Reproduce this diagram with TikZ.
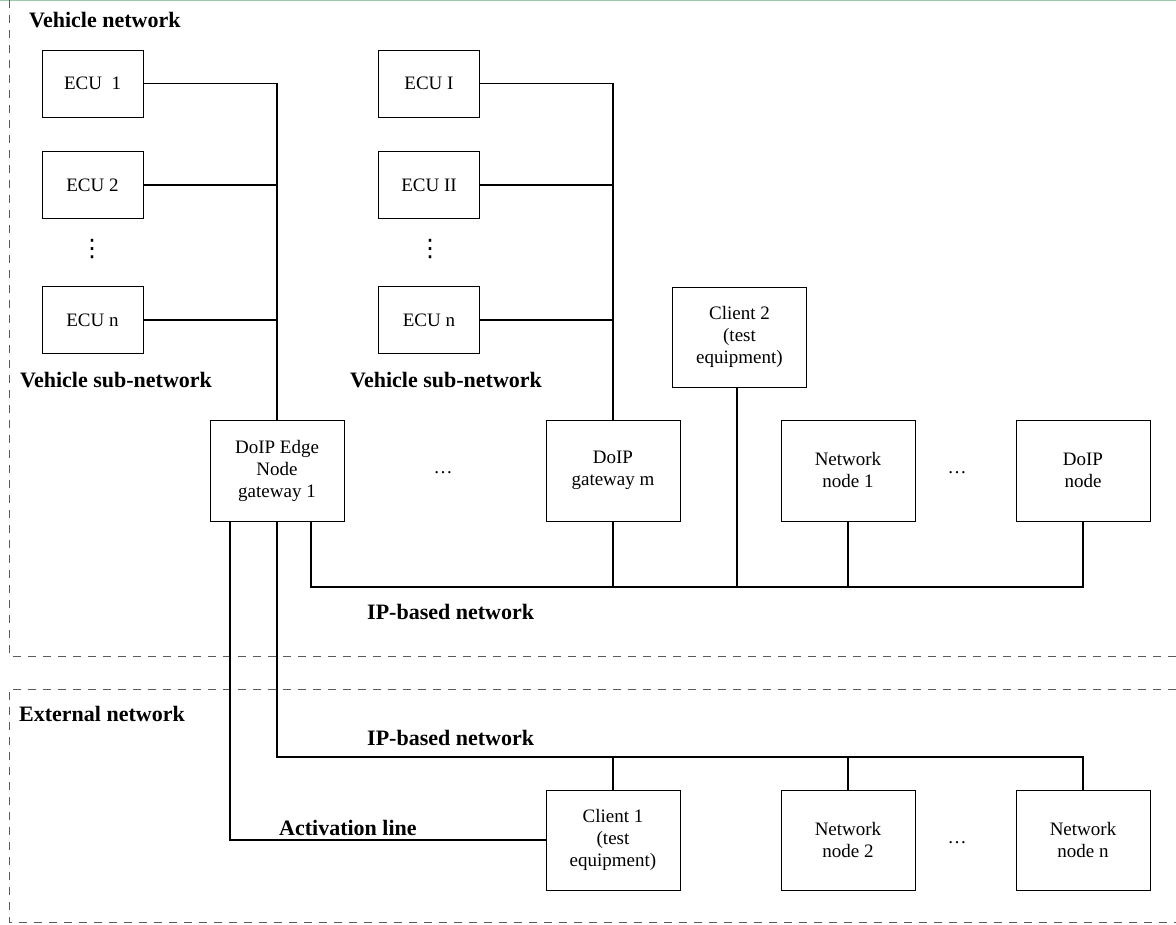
\documentclass[tikz,border=0pt]{standalone}
\usepackage{fontspec}
\setmainfont{Liberation Serif}
\newfontfamily\dvsans{DejaVu Sans}
\definecolor{topgreen}{HTML}{9CC9A8}
\definecolor{dashgray}{HTML}{5A5A5A}
\begin{document}
\begin{tikzpicture}[x=1pt,y=-1pt,
  box/.style={draw, line width=0.9pt, minimum width=101pt, minimum height=67pt, inner sep=0pt, align=center, font=\fontsize{19}{22}\selectfont},
  bigbox/.style={box, minimum width=134pt, minimum height=101pt},
  conn/.style={line width=1.5pt},
  thinconn/.style={line width=1.1pt},
  lbl/.style={font=\fontsize{22}{26}\selectfont\bfseries, anchor=base west, inner sep=0pt},
  dots/.style={font=\fontsize{19}{22}\selectfont, inner sep=0pt},
  vdots/.style={font=\fontsize{24}{26}\dvsans, inner sep=0pt},
  region/.style={dash pattern=on 8pt off 7pt, line width=0.9pt, draw=dashgray}]
\useasboundingbox (0,0) rectangle (1176,925);
\draw[topgreen, line width=1.5pt] (0,0.75) -- (1176,0.75);
% regions
\draw[region] (9,0) -- (9,656) -- (1176,656);
\draw[region] (1176,689) -- (9,689) -- (9,922) -- (1176,922);
% ECU boxes
\node[box] (ecu1) at (92.5,83.5) {ECU~~1};
\node[box] (ecu2) at (92.5,185) {ECU 2};
\node[box] (ecun) at (92.5,320) {ECU n};
\node[box] (ecuI) at (429,83.5) {ECU I};
\node[box] (ecuII) at (429,185) {ECU II};
\node[box] (ecun2) at (429,320) {ECU n};
\node[vdots] (vd1) at (92,249) {⋮};
\node[vdots] (vd2) at (430,249) {⋮};
% gateways and nodes
\node[bigbox] (gw1) at (277,470.5) {DoIP Edge\\Node\\gateway 1};
\node[bigbox] (gwm) at (613,470.5) {DoIP\\gateway m};
\node[bigbox, minimum height=100pt] (cl2) at (739.5,337) {Client 2\\(test\\equipment)};
\node[bigbox] (nn1) at (848,470.5) {Network\\node 1};
\node[bigbox] (doipn) at (1083,470.5) {DoIP\\node};
\node[dots] (hd1) at (443,473) {\dots};
\node[dots] (hd2) at (957,473) {\dots};
\node[bigbox, minimum height=100pt] (cl1) at (613,840) {Client 1\\(test\\equipment)};
\node[bigbox, minimum height=100pt] (nn2) at (848,840) {Network\\node 2};
\node[bigbox, minimum height=100pt] (nnn) at (1083,840) {Network\\node n};
\node[dots] (hd3) at (957,843) {\dots};
% labels
\node[lbl] (lvn) at (29,28) {Vehicle network};
\node[lbl] (lsub1) at (20,388) {Vehicle sub-network};
\node[lbl] (lsub2) at (350,388) {Vehicle sub-network};
\node[lbl] (lip1) at (367,619) {IP-based network};
\node[lbl] (lext) at (19,721) {External network};
\node[lbl] (lip2) at (367,745) {IP-based network};
\node[lbl] (lact) at (279,835) {Activation line};
% sub-network connectors
\draw[conn] (ecu1.east) -| (gw1.north);
\draw[thinconn] (ecu2.east) -- (ecu2.east -| gw1.north);
\draw[thinconn] (ecun.east) -- (ecun.east -| gw1.north);
\draw[conn] (ecuI.east) -| (gwm.north);
\draw[conn] (ecuII.east) -- (ecuII.east -| gwm.north);
\draw[conn] (ecun2.east) -- (ecun2.east -| gwm.north);
% upper IP bus
\coordinate (busR) at (1083,587);
\coordinate (cl2drop) at (737,587);
\draw[conn] ([xshift=34pt]gw1.south) |- (busR) -- (doipn.south);
\draw[conn] (gwm.south) -- (gwm.south |- busR);
\draw[conn] (nn1.south) -- (nn1.south |- busR);
\draw[conn] (cl2drop |- cl2.south) -- (cl2drop);
% lower IP bus
\coordinate (busL) at (1083,757);
\draw[conn] (gw1.south) |- (busL) -- (nnn.north);
\draw[conn] (cl1.north) -- (cl1.north |- busL);
\draw[conn] (nn2.north) -- (nn2.north |- busL);
% activation line
\draw[thinconn] ([xshift=-47pt]gw1.south) |- (cl1.west);
\end{tikzpicture}
\end{document}
